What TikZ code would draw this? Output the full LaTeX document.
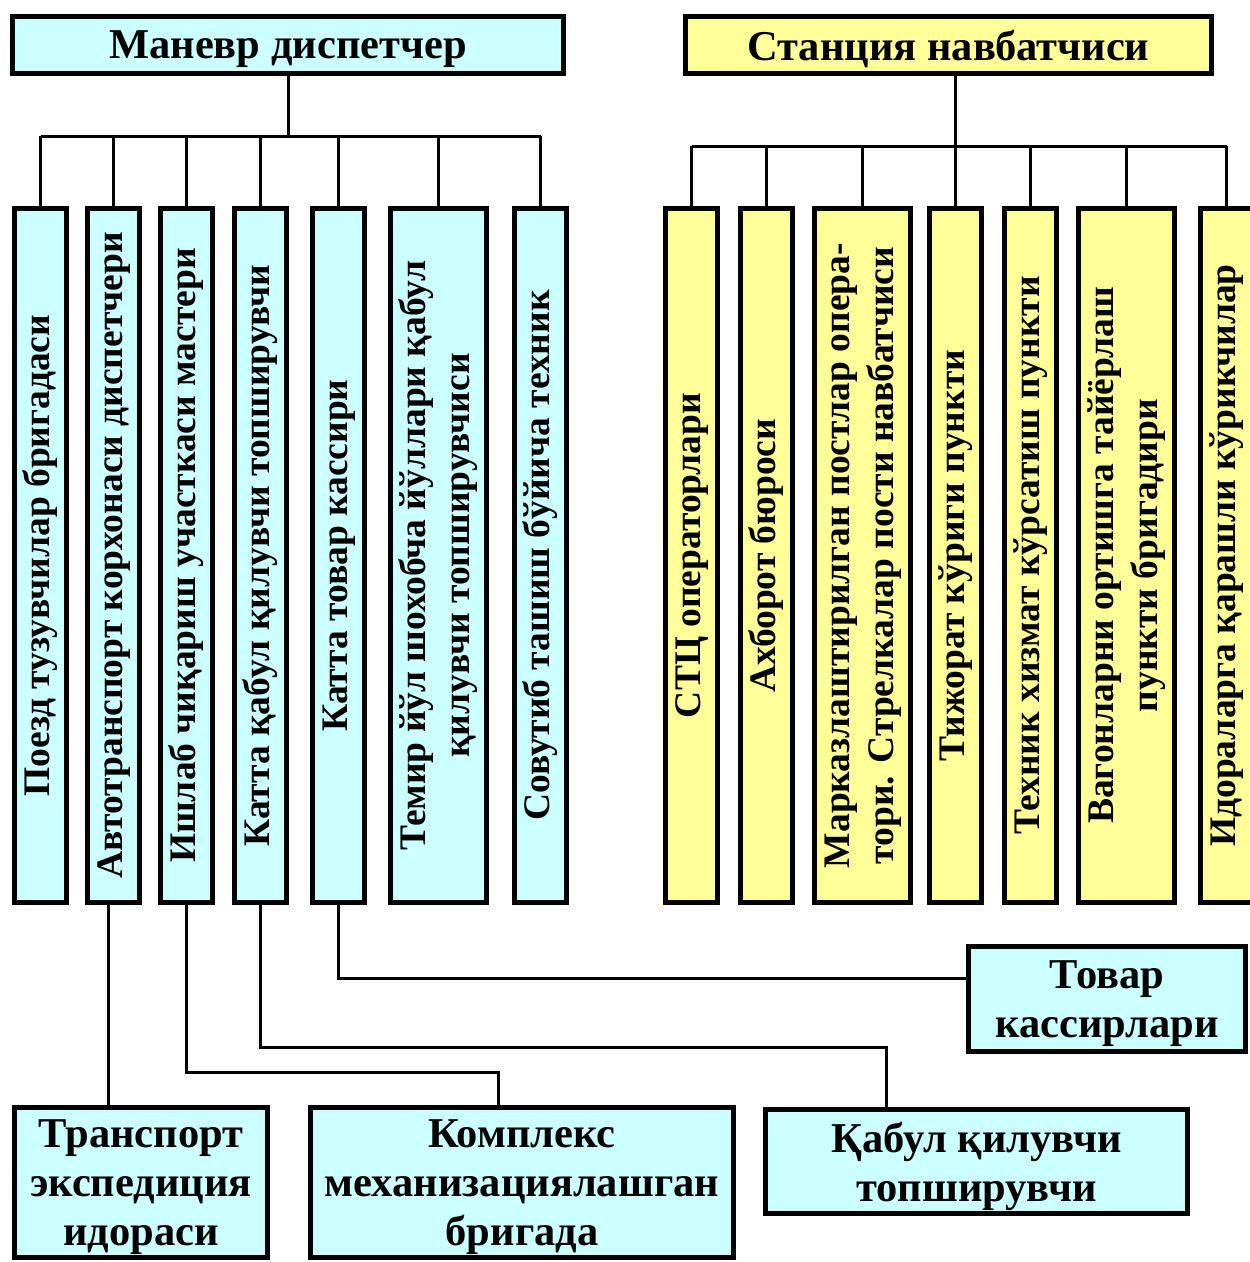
\documentclass[tikz,border=0pt]{standalone}
\usepackage{fontspec}
\setmainfont{Liberation Serif}
\usetikzlibrary{calc}
\definecolor{cyanbox}{RGB}{204,255,255}
\definecolor{yellowbox}{RGB}{255,255,153}
\newcommand{\boxfont}{\fontsize{42.5}{49}\selectfont\bfseries}
\newcommand{\vfont}{\fontsize{37.5}{44}\selectfont\bfseries}
\newcommand{\vtext}[1]{\rotatebox{90}{\vfont\begin{tabular}{@{}c@{}}#1\end{tabular}}}

\begin{document}
\begin{tikzpicture}[x=1pt,y=-1pt,
  box/.style={draw,line width=4.5pt,fill=cyanbox,inner sep=0pt,text depth=0pt,align=center,font=\boxfont},
  ybox/.style={box,fill=yellowbox},
  tall/.style={minimum width=52pt,minimum height=694pt},
  wide/.style={minimum width=96pt,minimum height=694pt},
  link/.style={line width=3pt}]
\useasboundingbox (0,0) rectangle (1250,1262);
\clip (0,0) rectangle (1250,1262);

\node[box,minimum width=551pt,minimum height=57pt] (mdisp) at (288,45) {Маневр диспетчер};
\node[ybox,minimum width=526pt,minimum height=57pt] (snav) at (948.5,45) {Станция навбатчиси};

\node[box,tall] (p1) at (40.5,555.5) {\vtext{Поезд тузувчилар бригадаси}};
\node[box,tall] (p2) at (113.5,555.5) {\vtext{Автотранспорт корхонаси диспетчери}};
\node[box,tall] (p3) at (186.5,555.5) {\vtext{Ишлаб чиқариш участкаси мастери}};
\node[box,tall] (p4) at (260.5,555.5) {\vtext{Катта қабул қилувчи топширувчи}};
\node[box,tall] (p5) at (338.5,555.5) {\vtext{Катта товар кассири}};
\node[box,wide] (p6) at (438.5,555.5) {\vtext{Темир йўл шохобча йўллари қабул\\қилувчи топширувчиси}};
\node[box,tall] (p7) at (540.5,555.5) {\vtext{Совутиб ташиш бўйича техник}};

\node[ybox,tall] (s1) at (691.5,555.5) {\vtext{СТЦ операторлари}};
\node[ybox,tall] (s2) at (766.5,555.5) {\vtext{Ахборот бюроси}};
\node[ybox,wide] (s3) at (862.5,555.5) {\vtext{Марказлаштирилган постлар опера-\\тори. Стрелкалар пости навбатчиси}};
\node[ybox,tall] (s4) at (955.5,555.5) {\vtext{Тижорат кўриги пункти}};
\node[ybox,tall] (s5) at (1030.5,555.5) {\vtext{Техник хизмат кўрсатиш пункти}};
\node[ybox,wide] (s6) at (1126.5,555.5) {\vtext{Вагонларни ортишга тайёрлаш\\пункти бригадири}};
\node[ybox,tall] (s7) at (1226.5,555.5) {\vtext{Идораларга қарашли кўрикчилар}};

\node[box,minimum width=277pt,minimum height=105pt] (tovar) at (1107,999) {Товар\\кассирлари};
\node[box,minimum width=253pt,minimum height=150pt] (trans) at (141,1182.5) {Транспорт\\экспедиция\\идораси};
\node[box,minimum width=423pt,minimum height=150pt] (kompl) at (522,1182.5) {Комплекс\\механизациялашган\\бригада};
\node[box,minimum width=422pt,minimum height=104pt] (qabul) at (976.5,1161.5) {Қабул қилувчи\\топширувчи};

\coordinate (mbar) at (288,136);
\coordinate (sbar) at (951,146);
\draw[link] (mdisp.south) -- (mbar);
\draw[link] (p1.north |- mbar) -- (p7.north |- mbar);
\foreach \n in {p1,p2,p3,p4,p5,p6,p7}
  \draw[link] (\n.north |- mbar) -- (\n.north);
\draw[link] (s4.north |- snav.south) -- (s4.north);
\draw[link] (s1.north |- sbar) -- (s7.north |- sbar);
\foreach \n in {s1,s2,s3,s5,s6,s7}
  \draw[link] (\n.north |- sbar) -- (\n.north);

\coordinate (k1) at (498,1072);
\coordinate (q1) at (886,1047);
\draw[link] (p5.south) |- ([yshift=21pt]tovar.west);
\draw[link] ([xshift=-5pt]p2.south) -- ([xshift=-5pt]p2.south |- trans.north);
\draw[link] (p3.south) |- (k1) -- (k1 |- kompl.north);
\draw[link] (p4.south) |- (q1) -- (q1 |- qabul.north);
\end{tikzpicture}
\end{document}
